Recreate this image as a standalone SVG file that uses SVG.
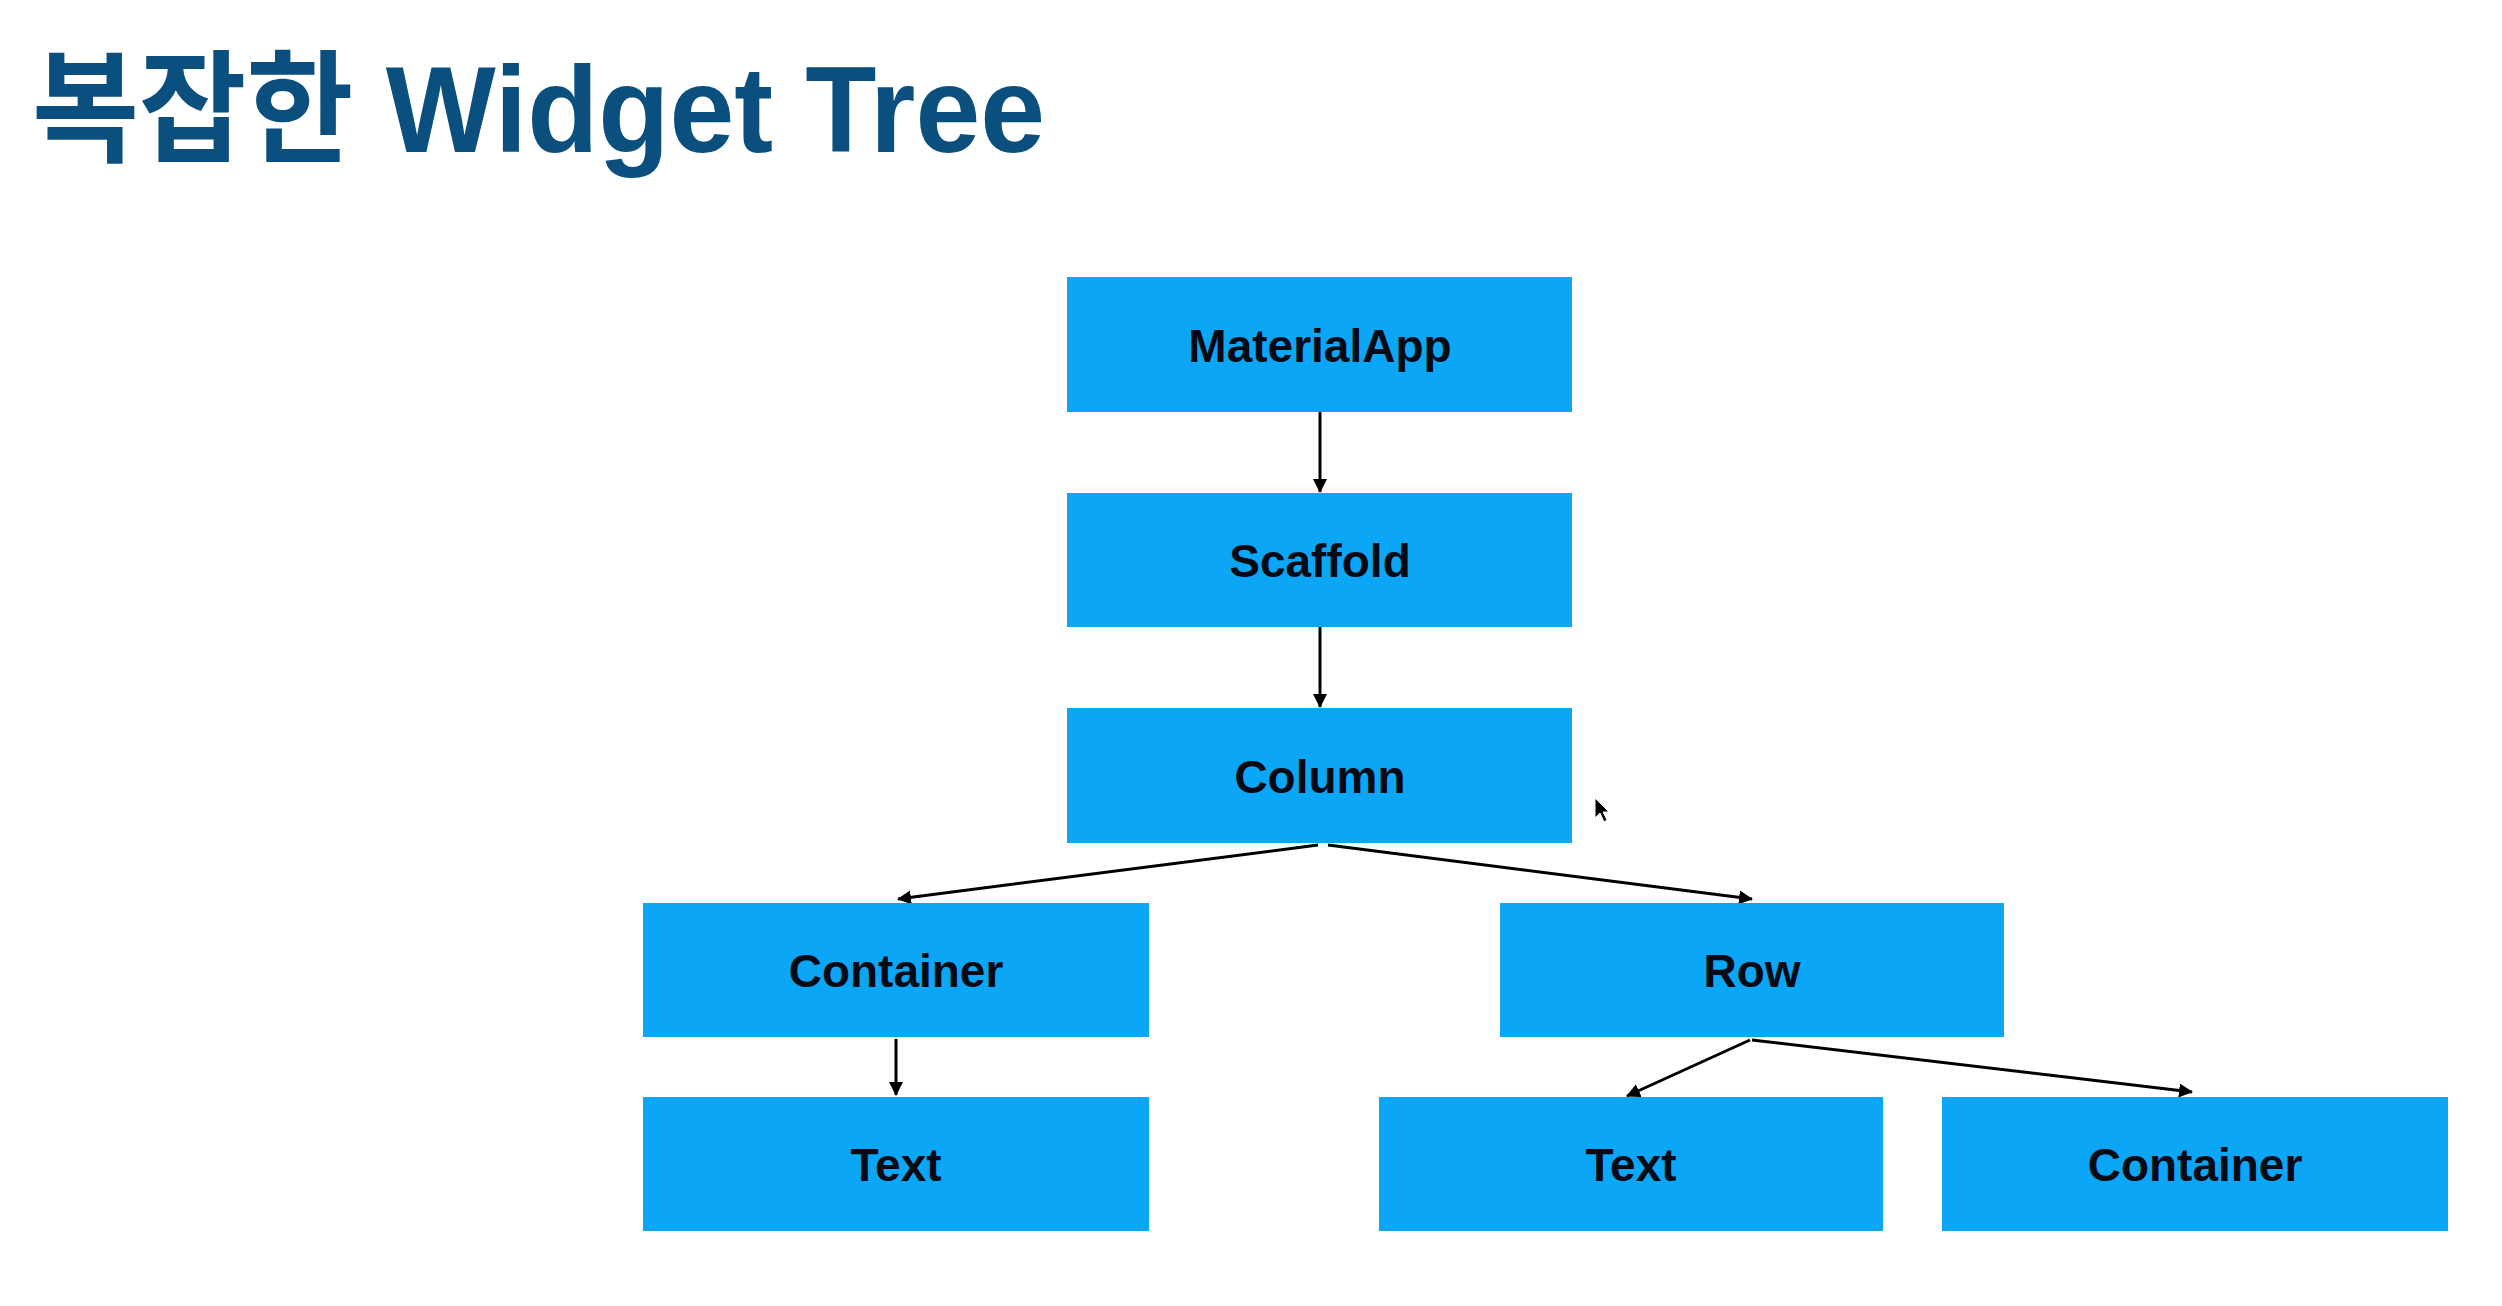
<svg xmlns="http://www.w3.org/2000/svg" width="2502" height="1306" viewBox="0 0 2502 1306">
<style>
.box{fill:#0ca6f6;}
.lbl{font-family:"Liberation Sans",Arial,sans-serif;font-weight:bold;font-size:46px;fill:#050a14;text-anchor:middle;}
.edge{stroke:#000;stroke-width:3;fill:none;marker-end:url(#ah);}
.title{font-family:"Liberation Sans","Noto Sans CJK KR",sans-serif;font-weight:bold;font-size:122px;fill:#0b4f7f;}
</style>
<defs>
<marker id="ah" markerUnits="userSpaceOnUse" markerWidth="14" markerHeight="14" refX="13" refY="7" orient="auto">
<path d="M0,0 L14,7 L0,14 z" fill="#000"/>
</marker>
</defs>
<rect width="2502" height="1306" fill="#fff"/>
<text class="title" x="32" y="152" textLength="1013" lengthAdjust="spacingAndGlyphs">복잡한 Widget Tree</text>
<g id="connectors">
<line class="edge" x1="1320" y1="412" x2="1320" y2="492"/>
<line class="edge" x1="1320" y1="627" x2="1320" y2="707"/>
<line class="edge" x1="1318" y1="845" x2="898" y2="899"/>
<line class="edge" x1="1328" y1="845" x2="1752" y2="899"/>
<line class="edge" x1="896" y1="1039" x2="896" y2="1095"/>
<line class="edge" x1="1750" y1="1040" x2="1627" y2="1096"/>
<line class="edge" x1="1752" y1="1040" x2="2192" y2="1092"/>
</g>
<g id="materialapp"><rect class="box" x="1067" y="277" width="505" height="135"/><text class="lbl" x="1320" y="362">MaterialApp</text></g>
<g id="scaffold"><rect class="box" x="1067" y="493" width="505" height="134"/><text class="lbl" x="1320" y="577">Scaffold</text></g>
<g id="column"><rect class="box" x="1067" y="708" width="505" height="135"/><text class="lbl" x="1320" y="793">Column</text></g>
<g id="container-left"><rect class="box" x="643" y="903" width="506" height="134"/><text class="lbl" x="896" y="987">Container</text></g>
<g id="row"><rect class="box" x="1500" y="903" width="504" height="134"/><text class="lbl" x="1752" y="987">Row</text></g>
<g id="text-left"><rect class="box" x="643" y="1097" width="506" height="134"/><text class="lbl" x="896" y="1181">Text</text></g>
<g id="text-right"><rect class="box" x="1379" y="1097" width="504" height="134"/><text class="lbl" x="1631" y="1181">Text</text></g>
<g id="container-right"><rect class="box" x="1942" y="1097" width="506" height="134"/><text class="lbl" x="2195" y="1181">Container</text></g>
<path d="M1595,798 L1595,818 L1600,813 L1604,822 L1607,820 L1603,812 L1609,812 z" fill="#000" stroke="#fff" stroke-width="1"/>
</svg>
